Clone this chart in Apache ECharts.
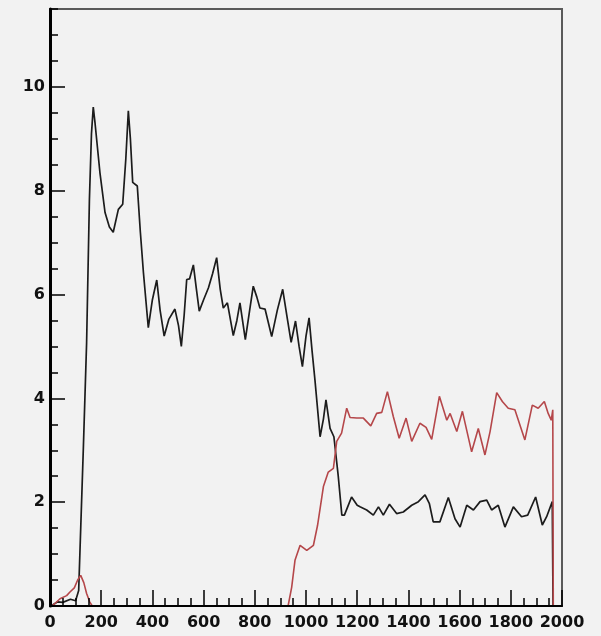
<!DOCTYPE html>
<html>
<head>
<meta charset="utf-8">
<script src="https://cdn.jsdelivr.net/npm/echarts@6/dist/echarts.min.js"></script>
<style>
  html, body { margin: 0; padding: 0; background: #f2f2f2; }
  #chart { width: 601px; height: 636px; }
</style>
</head>
<body>
<div id="chart"></div>
<script>
// Black curve: sample positions and heights
const blackX = [0, 10, 30, 50, 80, 100, 112, 120, 130, 143, 154, 162, 169, 176, 195, 215, 232, 247, 267, 284, 296, 306, 314, 323, 341, 353, 365, 384, 400, 417, 430, 446, 464, 488, 502, 513, 524, 534, 545, 560, 572, 583, 600, 619, 635, 651, 665, 677, 693, 716, 730, 742, 763, 780, 794, 808, 820, 840, 866, 888, 909, 925, 942, 959, 973, 986, 1000, 1012, 1024, 1035, 1055, 1068, 1078, 1094, 1109, 1126, 1140, 1150, 1162, 1178, 1200, 1211, 1237, 1263, 1283, 1302, 1326, 1354, 1380, 1413, 1439, 1465, 1482, 1497, 1523, 1556, 1582, 1602, 1628, 1654, 1680, 1706, 1725, 1751, 1777, 1810, 1842, 1866, 1897, 1923, 1940, 1962, 1965, 2000];
const blackY = [0, 0.02, 0.08, 0.07, 0.13, 0.1, 0.3, 1.5, 3.0, 5.07, 7.84, 9.1, 9.61, 9.3, 8.35, 7.58, 7.3, 7.2, 7.64, 7.74, 8.6, 9.54, 9.0, 8.16, 8.09, 7.2, 6.42, 5.36, 5.9, 6.28, 5.7, 5.2, 5.52, 5.72, 5.4, 5.0, 5.6, 6.29, 6.3, 6.57, 6.1, 5.68, 5.9, 6.13, 6.4, 6.71, 6.1, 5.74, 5.84, 5.21, 5.5, 5.84, 5.13, 5.7, 6.16, 5.95, 5.74, 5.72, 5.19, 5.7, 6.1, 5.6, 5.08, 5.49, 5.0, 4.61, 5.2, 5.55, 4.9, 4.35, 3.26, 3.6, 3.97, 3.42, 3.26, 2.5, 1.75, 1.75, 1.9, 2.1, 1.94, 1.91, 1.85, 1.75, 1.91, 1.75, 1.96, 1.78, 1.81, 1.94, 2.01, 2.14, 1.97, 1.62, 1.62, 2.09, 1.68, 1.52, 1.94, 1.85, 2.01, 2.04, 1.85, 1.94, 1.52, 1.91, 1.72, 1.75, 2.1, 1.56, 1.72, 2.01, 0, 0];

// Red curve: sample positions and heights
const redX = [0, 13, 39, 65, 78, 95, 108, 120, 132, 143, 155, 165, 930, 944, 957, 977, 1003, 1029, 1045, 1068, 1087, 1107, 1120, 1139, 1159, 1172, 1198, 1224, 1253, 1276, 1296, 1318, 1341, 1364, 1391, 1413, 1445, 1469, 1491, 1521, 1550, 1563, 1589, 1611, 1647, 1673, 1699, 1719, 1745, 1767, 1790, 1816, 1855, 1884, 1907, 1931, 1946, 1958, 1964, 1966, 2000];
const redY = [0, 0.02, 0.14, 0.2, 0.27, 0.35, 0.5, 0.59, 0.45, 0.24, 0.08, 0, 0, 0.36, 0.88, 1.17, 1.07, 1.17, 1.55, 2.3, 2.58, 2.65, 3.17, 3.33, 3.81, 3.63, 3.62, 3.62, 3.47, 3.71, 3.73, 4.13, 3.65, 3.23, 3.62, 3.17, 3.52, 3.44, 3.21, 4.04, 3.58, 3.71, 3.36, 3.75, 2.97, 3.42, 2.91, 3.36, 4.11, 3.94, 3.81, 3.78, 3.2, 3.87, 3.81, 3.94, 3.71, 3.58, 3.78, 0, 0];

// Axis ranges and tick steps
const xRange = [0, 2000];
const yRange = [0, 11.5];
const xMajor = 200, xMinor = 50;
const yMajor = 2, yMinor = 0.5;

const pairs = (xs, ys) => xs.map((x, i) => [x, ys[i]]);

const labelFont = {
  fontFamily: 'DejaVu Sans',
  fontSize: 16,
  fontWeight: 'bold',
  color: '#111'
};

const plain = v => String(v);

const chart = echarts.init(document.getElementById('chart'), null, { renderer: 'canvas' });

chart.setOption({
  backgroundColor: '#f2f2f2',
  animation: false,
  grid: {
    left: 50, right: 39, top: 9, bottom: 30,
    show: true,
    backgroundColor: 'transparent',
    borderColor: '#5a5a5a',
    borderWidth: 2
  },
  xAxis: [
    {
      type: 'value', min: xRange[0], max: xRange[1], interval: xMajor,
      z: 5,
      axisLine: { show: true, onZero: false, lineStyle: { color: '#000', width: 2 } },
      axisTick: { show: true, inside: true, length: 16, lineStyle: { color: '#000', width: 1.5 } },
      axisLabel: Object.assign({ margin: 9, showMaxLabel: true, showMinLabel: true, formatter: plain, hideOverlap: false }, labelFont),
      splitLine: { show: false }
    },
    {
      type: 'value', min: xRange[0], max: xRange[1], interval: xMinor,
      position: 'bottom', z: 5,
      axisLine: { show: false },
      axisTick: { show: true, inside: true, length: 8, lineStyle: { color: '#000', width: 1.5 } },
      axisLabel: { show: false },
      splitLine: { show: false }
    }
  ],
  yAxis: [
    {
      type: 'value', min: yRange[0], max: yRange[1], interval: yMajor,
      z: 5,
      axisLine: { show: true, onZero: false, lineStyle: { color: '#000', width: 3 } },
      axisTick: { show: true, inside: true, length: 15, lineStyle: { color: '#000', width: 1.5 } },
      axisLabel: Object.assign({ margin: 5, showMaxLabel: false, formatter: plain }, labelFont),
      splitLine: { show: false }
    },
    {
      type: 'value', min: yRange[0], max: yRange[1], interval: yMinor,
      position: 'left', z: 5,
      axisLine: { show: false },
      axisTick: { show: true, inside: true, length: 8, lineStyle: { color: '#000', width: 1.5 } },
      axisLabel: { show: false },
      splitLine: { show: false }
    }
  ],
  series: [
    {
      name: 'black',
      type: 'line',
      xAxisIndex: 0, yAxisIndex: 0,
      data: pairs(blackX, blackY),
      showSymbol: false,
      lineStyle: { color: '#1c1c1c', width: 1.7 },
      z: 3
    },
    {
      name: 'red',
      type: 'line',
      xAxisIndex: 0, yAxisIndex: 0,
      data: pairs(redX, redY),
      showSymbol: false,
      lineStyle: { color: '#b5474a', width: 1.6 },
      z: 4
    }
  ]
});
</script>
</body>
</html>
